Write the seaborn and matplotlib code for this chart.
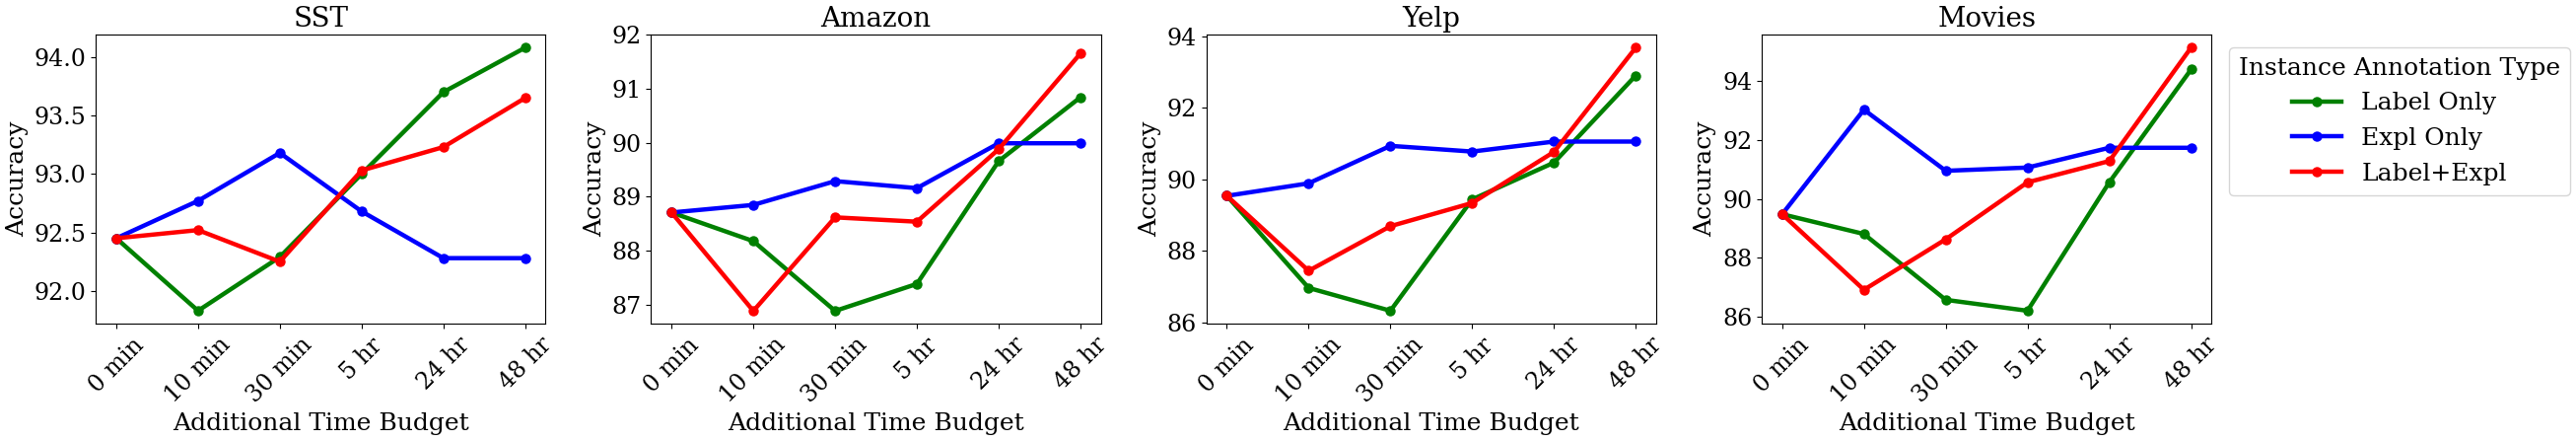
import pandas as pd
import matplotlib
matplotlib.use("Agg")
import matplotlib.pyplot as plt
import seaborn as sns

# Time budgets on the x axis
budgets = ["0 min", "10 min", "30 min", "5 hr", "24 hr", "48 hr"]
methods = ["Label Only", "Expl Only", "Label+Expl"]
datasets = ["SST", "Amazon", "Yelp", "Movies"]

# Accuracy values
sst_label = [92.45, 91.83, 92.29, 93.00, 93.70, 94.08]
sst_expl = [92.45, 92.77, 93.18, 92.68, 92.28, 92.28]
sst_both = [92.45, 92.52, 92.25, 93.03, 93.23, 93.65]

amazon_label = [88.71, 88.18, 86.89, 87.39, 89.66, 90.84]
amazon_expl = [88.71, 88.85, 89.29, 89.16, 89.99, 89.99]
amazon_both = [88.71, 86.89, 88.62, 88.54, 89.88, 91.65]

yelp_label = [89.54, 86.96, 86.32, 89.44, 90.47, 92.91]
yelp_expl = [89.54, 89.89, 90.94, 90.78, 91.06, 91.06]
yelp_both = [89.54, 87.44, 88.69, 89.34, 90.77, 93.69]

movies_label = [89.48, 88.81, 86.58, 86.21, 90.56, 94.38]
movies_expl = [89.48, 93.02, 90.95, 91.06, 91.73, 91.73]
movies_both = [89.48, 86.92, 88.63, 90.56, 91.28, 95.12]

results = {
    "SST": [sst_label, sst_expl, sst_both],
    "Amazon": [amazon_label, amazon_expl, amazon_both],
    "Yelp": [yelp_label, yelp_expl, yelp_both],
    "Movies": [movies_label, movies_expl, movies_both],
}

palette = {"Label Only": "green", "Expl Only": "blue", "Label+Expl": "red"}

plt.rcParams["font.family"] = ["DejaVu Serif"]

fig, axes = plt.subplots(1, 4, figsize=(26.13, 4.47), dpi=100)
fig.subplots_adjust(left=0.0372, right=0.8585, top=0.9217, bottom=0.2655, wspace=0.2346)

for ax, name in zip(axes, datasets):
    rows = []
    for method, vals in zip(methods, results[name]):
        for b, v in zip(budgets, vals):
            rows.append({"Budget": b, "Accuracy": v, "Type": method})
    df = pd.DataFrame(rows)
    sns.lineplot(data=df, x="Budget", y="Accuracy", hue="Type", palette=palette,
                 marker="o", markersize=7.5, markeredgewidth=0, linewidth=3.2,
                 sort=False, ax=ax, legend=(name == "Movies"))
    ax.set_title(name, fontsize=20)
    ax.set_xlabel("Additional Time Budget", fontsize=18)
    ax.set_ylabel("Accuracy", fontsize=18)
    ax.tick_params(axis="both", labelsize=17)
    ax.tick_params(axis="x", rotation=45)

# Amazon panel's y range reaches up to the 92 tick
axes[1].set_ylim(86.65, 92.0)

handles, labels = axes[-1].get_legend_handles_labels()
axes[-1].get_legend().remove()
fig.legend(handles, labels, title="Instance Annotation Type", loc="upper left",
           bbox_to_anchor=(2261 / 2613, 1 - 48 / 447), borderaxespad=0,
           fontsize=18, title_fontsize=18)

fig.savefig("out.png", dpi=100)
